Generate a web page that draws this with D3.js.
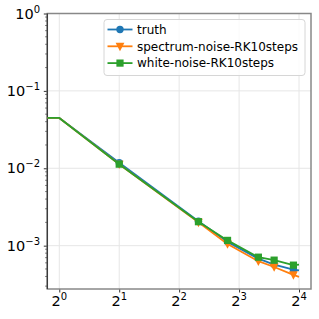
<!DOCTYPE html>
<html>
<head>
<meta charset="utf-8">
<script src="https://cdn.jsdelivr.net/npm/d3@7"></script>
<style>
  body { margin: 0; background: #fff; }
  svg { display: block; font-family: "DejaVu Sans", sans-serif; }
</style>
</head>
<body>
<svg id="chart" width="319" height="319"></svg>
<script>
// ==========================================
// DATA
// ==========================================
const xValues = [0, 1, 2, 5, 7, 10, 12, 15, 16];
const markerX = [2, 5, 7, 10, 12, 15];

const truth    = [0.0447, 0.0447, 0.0118, 0.00207, 0.00112, 0.00068, 0.00057, 0.00049, 0.000478];
const spectrum = [0.0447, 0.0447, 0.0113, 0.00200, 0.00105, 0.00063, 0.00053, 0.00042, 0.000395];
const white    = [0.0447, 0.0447, 0.0113, 0.00204, 0.00117, 0.00071, 0.00065, 0.00056, 0.00057];

const seriesNames = ['truth', 'spectrum-noise-RK10steps', 'white-noise-RK10steps'];
const xTickExps = [0, 1, 2, 3, 4];
const yTickExps = [0, -1, -2, -3];

const series = [
  { name: seriesNames[0], values: truth,    color: '#1f77b4', marker: 'circle' },
  { name: seriesNames[1], values: spectrum, color: '#ff7f0e', marker: 'triangle' },
  { name: seriesNames[2], values: white,    color: '#2ca02c', marker: 'square' }
];

// ==========================================
// LAYOUT & SCALES
// ==========================================
const plot = { left: 47.3, right: 311, top: 13.5, bottom: 289 };
const svg = d3.select('#chart');

const x = d3.scaleLog().base(2)
  .domain([Math.pow(2, -0.2), Math.pow(2, 4.2)])
  .range([plot.left, plot.right])
  .clamp(true); // x = 0 is pushed to the left edge, like matplotlib's clip

const y = d3.scaleLog()
  .domain([Math.pow(10, -3.56), 1])
  .range([plot.bottom, plot.top]);

svg.append('defs').append('clipPath').attr('id', 'clip')
  .append('rect')
  .attr('x', plot.left).attr('y', plot.top)
  .attr('width', plot.right - plot.left).attr('height', plot.bottom - plot.top);

// grid
const grid = svg.append('g');
xTickExps.forEach(e => {
  grid.append('line')
    .attr('x1', x(Math.pow(2, e))).attr('x2', x(Math.pow(2, e)))
    .attr('y1', plot.top).attr('y2', plot.bottom)
    .attr('stroke', '#e6e6e6').attr('stroke-width', 1);
});
yTickExps.forEach(e => {
  grid.append('line')
    .attr('x1', plot.left).attr('x2', plot.right)
    .attr('y1', y(Math.pow(10, e))).attr('y2', y(Math.pow(10, e)))
    .attr('stroke', '#e6e6e6').attr('stroke-width', 1);
});

// ==========================================
// AXES
// ==========================================
const yAxis = d3.axisLeft(y)
  .tickValues(yTickExps.map(e => Math.pow(10, e)))
  .tickSize(3.5).tickFormat('');
svg.append('g').attr('transform', `translate(${plot.left},0)`).call(yAxis)
  .call(g => g.select('.domain').remove())
  .call(g => g.selectAll('line').attr('stroke', '#333'));

// minor y ticks
const minor = [];
for (let d = -4; d < 0; d++) {
  for (let m = 2; m <= 9; m++) {
    const v = m * Math.pow(10, d);
    if (v >= y.domain()[0] && v <= 1) minor.push(v);
  }
}
svg.append('g').selectAll('line').data(minor).join('line')
  .attr('x1', plot.left - 2).attr('x2', plot.left)
  .attr('y1', d => y(d)).attr('y2', d => y(d))
  .attr('stroke', '#333').attr('stroke-width', 0.8);

const xAxis = d3.axisBottom(x)
  .tickValues(xTickExps.map(e => Math.pow(2, e)))
  .tickSize(3.5).tickFormat('');
svg.append('g').attr('transform', `translate(0,${plot.bottom})`).call(xAxis)
  .call(g => g.select('.domain').remove())
  .call(g => g.selectAll('line').attr('stroke', '#333'));

// tick labels with superscripts
xTickExps.forEach(e => {
  const t = svg.append('text')
    .attr('x', x(Math.pow(2, e))).attr('y', 306)
    .attr('text-anchor', 'middle')
    .attr('font-size', 14.5).attr('fill', '#000');
  t.append('tspan').text('2');
  t.append('tspan').attr('font-size', 10).attr('dy', -6).text(String(e));
});
yTickExps.forEach(e => {
  const t = svg.append('text')
    .attr('x', 40).attr('y', y(Math.pow(10, e)) + 5)
    .attr('text-anchor', 'end')
    .attr('font-size', 14.5).attr('fill', '#000');
  t.append('tspan').text('10');
  t.append('tspan').attr('font-size', 10).attr('dy', -6)
    .text(e === 0 ? '0' : '\u2212' + Math.abs(e));
});

// frame
svg.append('rect')
  .attr('x', plot.left).attr('y', plot.top)
  .attr('width', plot.right - plot.left).attr('height', plot.bottom - plot.top)
  .attr('fill', 'none').attr('stroke', '#888').attr('stroke-width', 1.5);
svg.append('line')
  .attr('x1', plot.left).attr('x2', plot.left)
  .attr('y1', plot.top).attr('y2', plot.bottom)
  .attr('stroke', '#333').attr('stroke-width', 1.2);

// ==========================================
// SERIES
// ==========================================
const line = d3.line()
  .x(d => x(d[0]))
  .y(d => y(d[1]));

function drawMarker(g, kind, color, cx, cy) {
  if (kind === 'circle') {
    g.append('circle').attr('cx', cx).attr('cy', cy).attr('r', 3.7).attr('fill', color);
  } else if (kind === 'square') {
    g.append('rect').attr('x', cx - 3.6).attr('y', cy - 3.6)
      .attr('width', 7.2).attr('height', 7.2).attr('fill', color);
  } else {
    const s = 4.4;
    g.append('path')
      .attr('d', `M${cx - s},${cy - s * 0.8}L${cx + s},${cy - s * 0.8}L${cx},${cy + s * 1.1}Z`)
      .attr('fill', color);
  }
}

const plotG = svg.append('g').attr('clip-path', 'url(#clip)');
series.forEach(s => {
  const pts = xValues.map((xv, i) => [xv, s.values[i]]);
  plotG.append('path')
    .attr('d', line(pts))
    .attr('fill', 'none')
    .attr('stroke', s.color)
    .attr('stroke-width', 1.8)
    .attr('stroke-linejoin', 'round');
  const mg = plotG.append('g');
  pts.filter(p => markerX.includes(p[0]))
    .forEach(p => drawMarker(mg, s.marker, s.color, x(p[0]), y(p[1])));
});

// ==========================================
// LEGEND
// ==========================================
const legend = svg.append('g');
legend.append('rect')
  .attr('x', 104).attr('y', 19.5).attr('width', 201).attr('height', 56)
  .attr('rx', 3)
  .attr('fill', '#fff').attr('fill-opacity', 0.8)
  .attr('stroke', '#d6d6d6').attr('stroke-width', 1);

series.forEach((s, i) => {
  const ly = 29.5 + i * 16.8;
  legend.append('line')
    .attr('x1', 107.5).attr('x2', 132.5).attr('y1', ly).attr('y2', ly)
    .attr('stroke', s.color).attr('stroke-width', 1.8);
  drawMarker(legend, s.marker, s.color, 120, ly);
  legend.append('text')
    .attr('x', 137).attr('y', ly + 4.3)
    .attr('font-size', 12).attr('fill', '#000')
    .text(s.name);
});
</script>
</body>
</html>
